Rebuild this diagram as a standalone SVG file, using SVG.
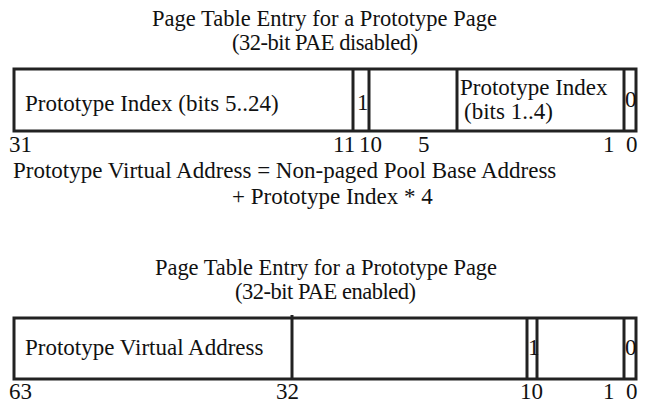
<svg xmlns="http://www.w3.org/2000/svg" width="647" height="403" viewBox="0 0 647 403">
<style>
text{font-family:"Liberation Serif","Times New Roman",serif;font-size:23px;fill:#111}
.t{font-size:22.5px}
.box{fill:#fff;stroke:#222;stroke-width:3}
.div{stroke:#222;stroke-width:3}
</style>
<rect width="647" height="403" fill="#fff"/>
<g id="title1">
<text class="t" x="152" y="26" textLength="345">Page Table Entry for a Prototype Page</text>
<text class="t" x="232" y="50" textLength="186">(32-bit PAE disabled)</text>
</g>
<g id="pte1">
<rect class="box" x="14" y="69" width="622" height="62"/>
<line class="div" x1="353" y1="69" x2="353" y2="131"/>
<line class="div" x1="369" y1="69" x2="369" y2="131"/>
<line class="div" x1="457" y1="69" x2="457" y2="131"/>
<line class="div" x1="624" y1="69" x2="624" y2="131"/>
<text x="25" y="111">Prototype Index (bits 5..24)</text>
<text x="357" y="110">1</text>
<text x="460" y="95">Prototype Index</text>
<text x="464" y="119">(bits 1..4)</text>
<text x="625" y="107">0</text>
</g>
<g id="bits1">
<text x="9" y="152">31</text>
<text x="333" y="152">11</text>
<text x="359" y="152">10</text>
<text x="418" y="152">5</text>
<text x="603" y="152">1</text>
<text x="626" y="152">0</text>
</g>
<g id="formula">
<text x="13" y="178">Prototype Virtual Address = Non-paged Pool Base Address</text>
<text x="232" y="204">+ Prototype Index * 4</text>
</g>
<g id="title2">
<text class="t" x="155" y="275" textLength="342">Page Table Entry for a Prototype Page</text>
<text class="t" x="235" y="299" textLength="181">(32-bit PAE enabled)</text>
</g>
<g id="pte2">
<rect class="box" x="14" y="318" width="622" height="61"/>
<line class="div" x1="292" y1="315" x2="292" y2="379"/>
<line class="div" x1="527" y1="318" x2="527" y2="379"/>
<line class="div" x1="537" y1="318" x2="537" y2="379"/>
<line class="div" x1="624" y1="318" x2="624" y2="379"/>
<text x="25" y="355">Prototype Virtual Address</text>
<text x="528" y="355">1</text>
<text x="625" y="355">0</text>
</g>
<g id="bits2">
<text x="9" y="399">63</text>
<text x="276" y="399">32</text>
<text x="520" y="399">10</text>
<text x="603" y="399">1</text>
<text x="626" y="399">0</text>
</g>
</svg>
